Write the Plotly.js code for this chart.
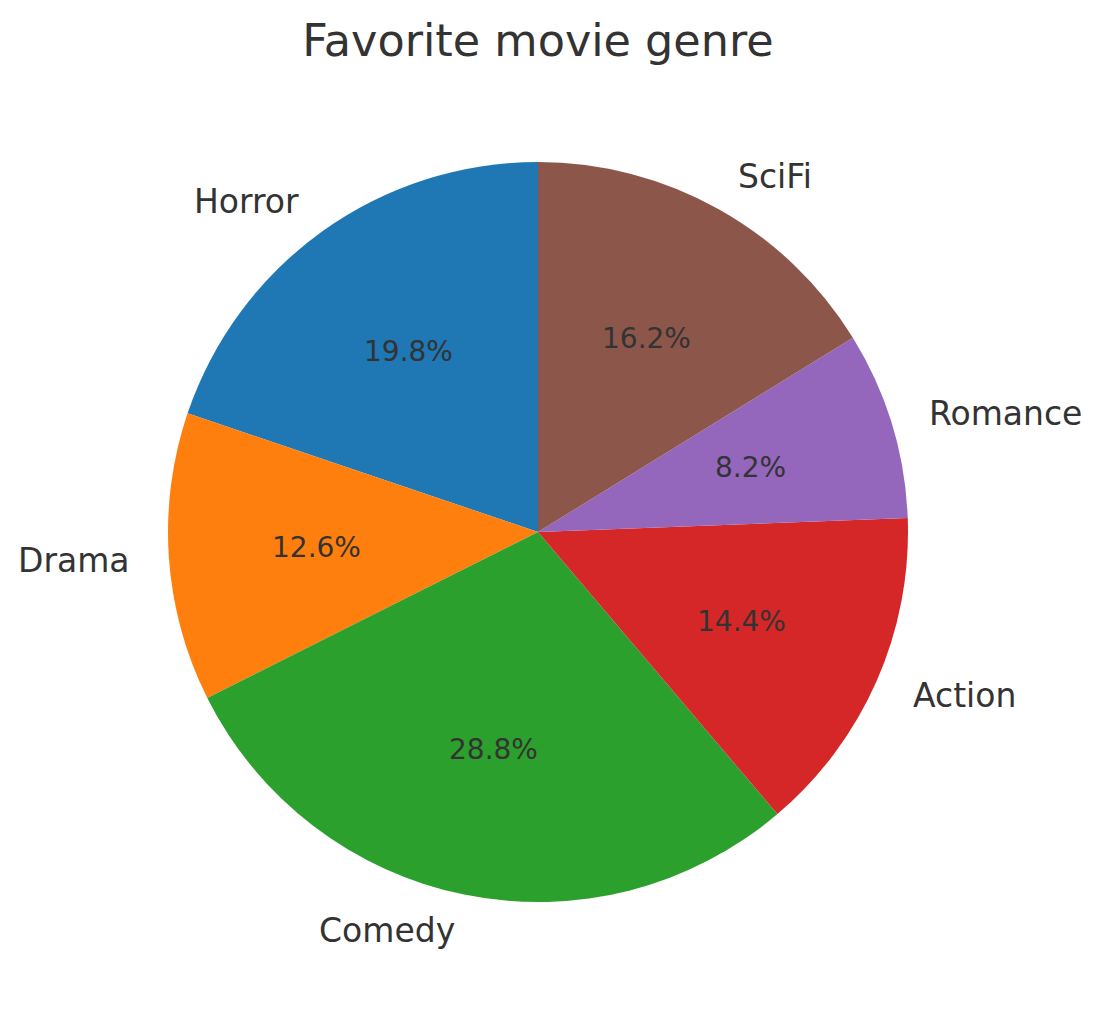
<!DOCTYPE html>
<html>
<head>
<meta charset="utf-8">
<script src="https://cdn.plot.ly/plotly-3.0.1.min.js"></script>
<style>
  body { margin: 0; background: #fff; }
  #chart { width: 1102px; height: 1014px; }
</style>
</head>
<body>
<div id="chart"></div>
<script>
const genres = ["Horror", "Drama", "Comedy", "Action", "Romance", "SciFi"];
const shares = [19.8, 12.6, 28.8, 14.4, 8.2, 16.2];
const colours = ["#1f77b4", "#ff7f0e", "#2ca02c", "#d62728", "#9467bd", "#8c564b"];

const W = 1102, H = 1014;
const cx = 538, cy = 532, R = 370;
const textCol = "#333333";
const font = "DejaVu Sans, sans-serif";

// labels at 1.1 R, percentages at 0.6 R, like matplotlib's pie
const total = shares.reduce((a, b) => a + b, 0);
let annotations = [];
let cum = 0;
shares.forEach((v, i) => {
  let mid = (90 + 360 * (cum + v / 2) / total) * Math.PI / 180;
  cum += v;
  let c = Math.cos(mid), s = Math.sin(mid);
  annotations.push({
    x: (cx + 1.1 * R * c) / W, y: 1 - (cy - 1.1 * R * s) / H,
    xref: 'paper', yref: 'paper', showarrow: false,
    text: genres[i],
    xanchor: c < 0 ? 'right' : 'left', yanchor: 'middle',
    font: { family: font, size: 33, color: textCol }
  });
  annotations.push({
    x: (cx + 0.6 * R * c) / W, y: 1 - (cy - 0.6 * R * s) / H,
    xref: 'paper', yref: 'paper', showarrow: false,
    text: (100 * v / total).toFixed(1) + '%',
    xanchor: 'center', yanchor: 'middle',
    font: { family: font, size: 28, color: textCol }
  });
});

// plotly puts the first slice's far edge at 12 o'clock when counterclockwise,
// so turn it back by the first slice's angle
const startShift = -360 * shares[0] / total;

Plotly.newPlot('chart', [{
  type: 'pie',
  labels: genres,
  values: shares,
  sort: false,
  direction: 'counterclockwise',
  rotation: startShift,
  textinfo: 'none',
  hoverinfo: 'skip',
  marker: { colors: colours, line: { width: 0 } },
  domain: { x: [(cx - R) / W, (cx + R) / W], y: [1 - (cy + R) / H, 1 - (cy - R) / H] }
}], {
  width: W, height: H,
  margin: { l: 0, r: 0, t: 0, b: 0 },
  showlegend: false,
  paper_bgcolor: '#ffffff',
  title: {
    text: 'Favorite movie genre',
    x: 538 / W, xanchor: 'center',
    y: 1 - 40 / H, yanchor: 'middle',
    font: { family: font, size: 44.5, color: textCol }
  },
  annotations: annotations
}, { staticPlot: true });
</script>
</body>
</html>
